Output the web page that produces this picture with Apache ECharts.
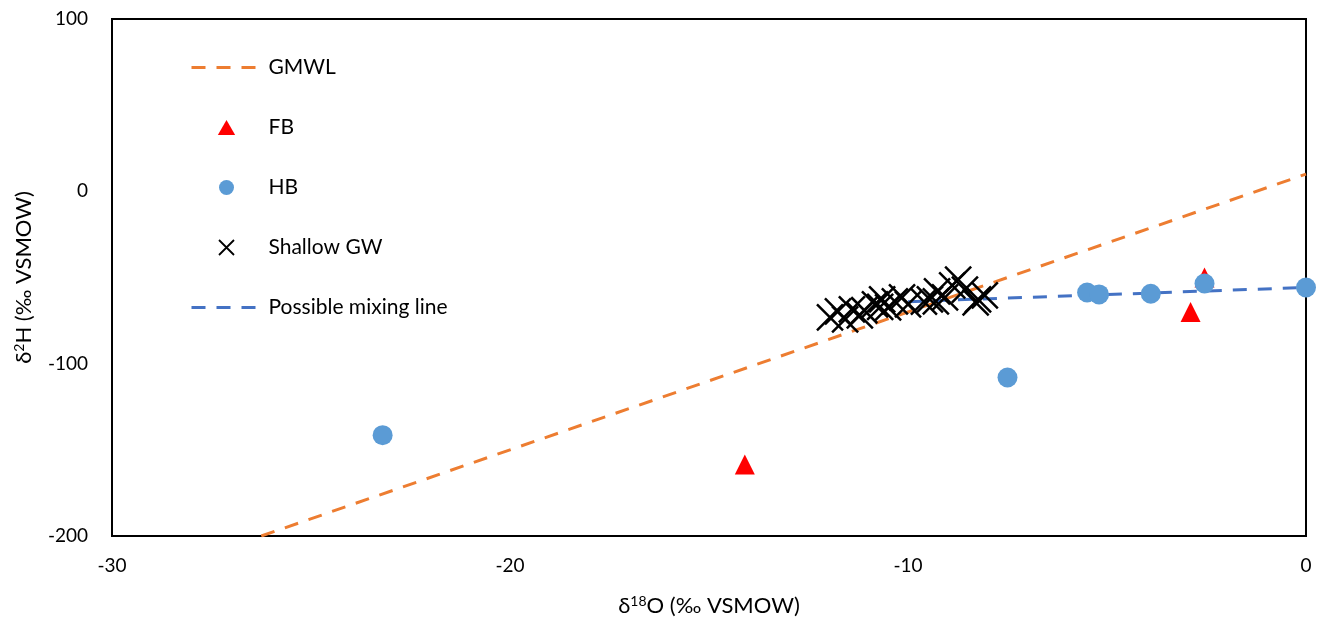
<!DOCTYPE html>
<html>
<head>
<meta charset="utf-8">
<script src="https://cdn.jsdelivr.net/npm/echarts@6/dist/echarts.min.js"></script>
<style>
  html, body { margin: 0; padding: 0; background: #fff; }
  #chart { width: 1320px; height: 622px; }
</style>
</head>
<body>
<div id="chart"></div>
<script>
// Global Meteoric Water Line end points (δ18O, δ2H)
const gmwlX = [-26.25, 0];
const gmwlY = [-200, 10];

// FB samples
const fbX = [-14.1, -2.9, -2.55];
const fbY = [-158.5, -70, -50];

// HB samples
const hbX = [-23.2, -7.5, -5.5, -5.2, -3.9, -2.55, 0];
const hbY = [-141.5, -108, -58.7, -59.8, -59.4, -53.5, -55.8];

// Shallow groundwater samples
const gwX = [-11.96, -11.76, -11.58, -11.41, -11.21, -11.1, -10.83, -10.7, -10.65, -10.5, -10.33, -10.15,
             -10.0, -9.6, -9.45, -9.3, -9.27, -9.07, -8.89, -8.74, -8.57, -8.3, -8.24, -8.07];
const gwY = [-73.2, -69.7, -74.3, -68.5, -72.0, -69.0, -65.6, -67.0, -62.7, -67.4, -63.9, -61.6,
             -65.6, -64.0, -62.7, -63.8, -58.1, -61.6, -54.6, -51.2, -57.0, -64.5, -62.7, -60.4];

// Possible mixing line end points
const mixX = [-10, 0];
const mixY = [-64, -55.8];

const xTicks = [-30, -20, -10, 0];
const yTicks = [-200, -100, 0, 100];

const pairs = (xs, ys) => xs.map((x, i) => [x, ys[i]]);

const FONT = 'Lato, "Open Sans", sans-serif';
const CROSS = 'path://M0,0L10,10M10,0L0,10';
const TRI = 'path://M0,13L7.5,0L15,13Z';
const DASH = [14, 11];
const hideDot = { color: 'transparent', borderWidth: 0 };

const nameRich = {
  t: { fontFamily: FONT, fontSize: 22, color: '#000' },
  s: { fontFamily: FONT, fontSize: 14, color: '#000', padding: [0, 0, 10, 0] }
};

const chart = echarts.init(document.getElementById('chart'), null, { renderer: 'canvas' });

chart.setOption({
  animation: false,
  backgroundColor: '#ffffff',
  textStyle: { fontFamily: FONT, color: '#000' },
  grid: {
    left: 112, right: 14, top: 19, bottom: 85,
    show: true, borderColor: '#000', borderWidth: 2, backgroundColor: 'transparent'
  },
  legend: {
    orient: 'vertical',
    left: 185, top: 52,
    itemWidth: 70, itemHeight: 15, itemGap: 39,
    textStyle: { fontFamily: FONT, fontSize: 21, color: '#000', padding: [0, 0, 0, 2] },
    data: [
      { name: 'GMWL', itemStyle: hideDot, lineStyle: { color: '#ED7D31', width: 3, type: DASH } },
      { name: 'FB', icon: TRI },
      { name: 'HB' },
      { name: 'Shallow GW', icon: CROSS, itemStyle: { color: 'transparent', borderColor: '#000', borderWidth: 1.8 } },
      { name: 'Possible mixing line', itemStyle: hideDot, lineStyle: { color: '#4472C4', width: 3, type: DASH } }
    ]
  },
  xAxis: {
    type: 'value', min: -30, max: 0, interval: 10,
    name: '{t|δ}{s|18}{t|O (‰ VSMOW)}',
    nameLocation: 'middle', nameGap: 58,
    nameTextStyle: { rich: nameRich },
    axisLine: { show: true, onZero: false, lineStyle: { color: '#000', width: 2 } },
    axisTick: { show: false },
    splitLine: { show: false },
    axisLabel: {
      fontFamily: FONT, fontSize: 19, color: '#000', margin: 20,
      formatter: v => xTicks.includes(v) ? String(v) : ''
    }
  },
  yAxis: {
    type: 'value', min: -200, max: 100, interval: 100,
    name: '{t|δ}{s|2}{t|H (‰ VSMOW)}',
    nameLocation: 'middle', nameGap: 76, nameRotate: 90,
    nameTextStyle: { rich: nameRich },
    axisLine: { show: true, onZero: false, lineStyle: { color: '#000', width: 2 } },
    axisTick: { show: false },
    splitLine: { show: false },
    axisLabel: {
      fontFamily: FONT, fontSize: 19, color: '#000', margin: 24,
      formatter: v => yTicks.includes(v) ? String(v) : ''
    }
  },
  series: [
    {
      name: 'GMWL', type: 'line', z: 1,
      data: pairs(gmwlX, gmwlY),
      symbol: 'none', clip: true,
      lineStyle: { color: '#ED7D31', width: 3, type: DASH },
      itemStyle: { color: '#ED7D31' }
    },
    {
      name: 'FB', type: 'scatter', z: 3,
      data: pairs(fbX, fbY),
      symbol: 'triangle', symbolSize: [20, 20],
      itemStyle: { color: '#FF0000', opacity: 1 }
    },
    {
      name: 'HB', type: 'scatter', z: 4,
      data: pairs(hbX, hbY),
      symbol: 'circle', symbolSize: 20,
      itemStyle: { color: '#5B9BD5', opacity: 1 }
    },
    {
      name: 'Shallow GW', type: 'scatter', z: 5,
      data: pairs(gwX, gwY),
      symbol: CROSS, symbolSize: 26,
      itemStyle: { color: 'transparent', borderColor: '#000', borderWidth: 2.5, opacity: 1 }
    },
    {
      name: 'Possible mixing line', type: 'line', z: 2,
      data: pairs(mixX, mixY),
      symbol: 'none',
      lineStyle: { color: '#4472C4', width: 3, type: DASH },
      itemStyle: { color: '#4472C4' }
    }
  ]
});
</script>
</body>
</html>
